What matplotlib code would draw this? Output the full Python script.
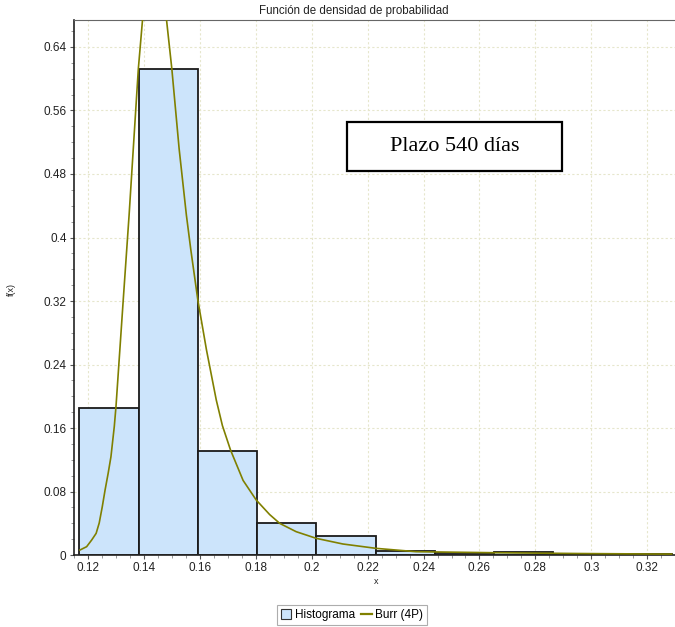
import numpy as np
import matplotlib.pyplot as plt
from matplotlib.patches import Patch, Rectangle
from matplotlib.lines import Line2D
from matplotlib.ticker import MultipleLocator

plt.rcParams['font.family'] = ['Liberation Sans', 'DejaVu Sans']

# --- Histogram data (10 bins) ---
bin_edges = [0.1168, 0.1380, 0.1592, 0.1804, 0.2016, 0.2228,
             0.2440, 0.2652, 0.2864, 0.3076, 0.3288]
bin_heights = [0.1856, 0.6119, 0.1314, 0.0407, 0.0243,
               0.0054, 0.0025, 0.0034, 0.0017, 0.0017]

# --- Burr (4P) curve (peak is above the plot) ---
burr_x = [0.1170, 0.1194, 0.1212, 0.1228, 0.1239, 0.1250, 0.1260, 0.1271,
          0.1281, 0.1293, 0.1299, 0.1325, 0.1346, 0.1379, 0.1394, 0.1405,
          0.1425, 0.1440, 0.1455, 0.1470, 0.1480, 0.1499, 0.1525, 0.1551,
          0.1567, 0.1592, 0.1623, 0.1658, 0.1680, 0.1709, 0.1754, 0.1801,
          0.1849, 0.1885, 0.1944, 0.2016, 0.2111, 0.2230, 0.2301, 0.2373,
          0.2653, 0.2950, 0.3206, 0.3288]
burr_y = [0.0063, 0.0105, 0.0189, 0.0273, 0.0403, 0.0609, 0.0819, 0.1029,
          0.1238, 0.1620, 0.1868, 0.3213, 0.4283, 0.6123, 0.6740, 0.7150,
          0.7650, 0.7750, 0.7650, 0.7250, 0.6740, 0.6123, 0.5120, 0.4283,
          0.3843, 0.3213, 0.2583, 0.1953, 0.1630, 0.1323, 0.0940, 0.0693,
          0.0510, 0.0399, 0.0294, 0.0210, 0.0139, 0.0084, 0.0063, 0.0042,
          0.0029, 0.0019, 0.0013, 0.0012]

x_ticks = [0.12, 0.14, 0.16, 0.18, 0.2, 0.22, 0.24, 0.26, 0.28, 0.3, 0.32]
y_ticks = [0, 0.08, 0.16, 0.24, 0.32, 0.4, 0.48, 0.56, 0.64]

bar_fill = '#cce4fb'
curve_col = '#808000'

fig = plt.figure(figsize=(6.75, 6.27), dpi=100)
ax = fig.add_axes([0.1089, 0.1148, 0.8911, 0.8533])

widths = np.diff(bin_edges)
ax.bar(bin_edges[:-1], bin_heights, width=widths, align='edge',
       color=bar_fill, edgecolor='#1a1a1a', linewidth=1.3, zorder=2)
ax.plot(burr_x, burr_y, color=curve_col, linewidth=1.2, zorder=3)

ax.set_xlim(0.1147, 0.3300)
ax.set_ylim(0, 0.674)
ax.set_xticks(x_ticks)
ax.set_xticklabels([f'{t:g}' for t in x_ticks])
ax.set_yticks(y_ticks)
ax.set_yticklabels([f'{t:g}' for t in y_ticks])
ax.xaxis.set_minor_locator(MultipleLocator(0.005))
ax.yaxis.set_minor_locator(MultipleLocator(0.02))
ax.tick_params(axis='both', which='major', labelsize=8.5, length=3,
               color='#555555', labelcolor='#222222', pad=2)
ax.tick_params(axis='both', which='minor', length=2, color='#888888')

ax.grid(True, color='#e6e6cc', linestyle=(0, (2, 2)), linewidth=0.8, zorder=0)
ax.set_axisbelow(True)

ax.spines['right'].set_visible(False)
ax.spines['top'].set_color('#666666')
ax.spines['left'].set_color('#222222')
ax.spines['bottom'].set_color('#222222')
ax.spines['left'].set_linewidth(1.2)
ax.spines['bottom'].set_linewidth(1.2)

fig.text(354 / 675, 1 - 11 / 627, 'Función de densidad de probabilidad',
         ha='center', va='center', fontsize=8.3, color='#222222')
fig.text(11 / 675, 1 - 290 / 627, 'f(x)', rotation=90, ha='center',
         va='center', fontsize=6.5, color='#222222')
fig.text(376 / 675, 1 - 581 / 627, 'x', ha='center', va='center',
         fontsize=6.5, color='#222222')

# annotation box
ax.add_patch(Rectangle((0.4547, 0.7178), 0.3574, 0.0916,
                       transform=ax.transAxes, facecolor='white',
                       edgecolor='black', linewidth=1.6, zorder=5))
ax.text(0.6334, 0.7636, 'Plazo 540 días', transform=ax.transAxes,
        ha='center', va='center', fontsize=16,
        family=['Liberation Serif', 'DejaVu Serif'], zorder=6)

handles = [Patch(facecolor=bar_fill, edgecolor='#333333', linewidth=0.8),
           Line2D([], [], color=curve_col, linewidth=1.6)]
leg = fig.legend(handles, ['Histograma', 'Burr (4P)'], ncol=2,
                 loc='center', bbox_to_anchor=(352 / 675, 1 - 615 / 627),
                 fontsize=8.5, frameon=True, fancybox=False,
                 handlelength=0.9, handleheight=0.9, handletextpad=0.3,
                 columnspacing=0.5, borderpad=0.3)
leg.get_frame().set_edgecolor('#999999')
leg.get_frame().set_linewidth(0.8)

fig.savefig('out.png', dpi=100)
